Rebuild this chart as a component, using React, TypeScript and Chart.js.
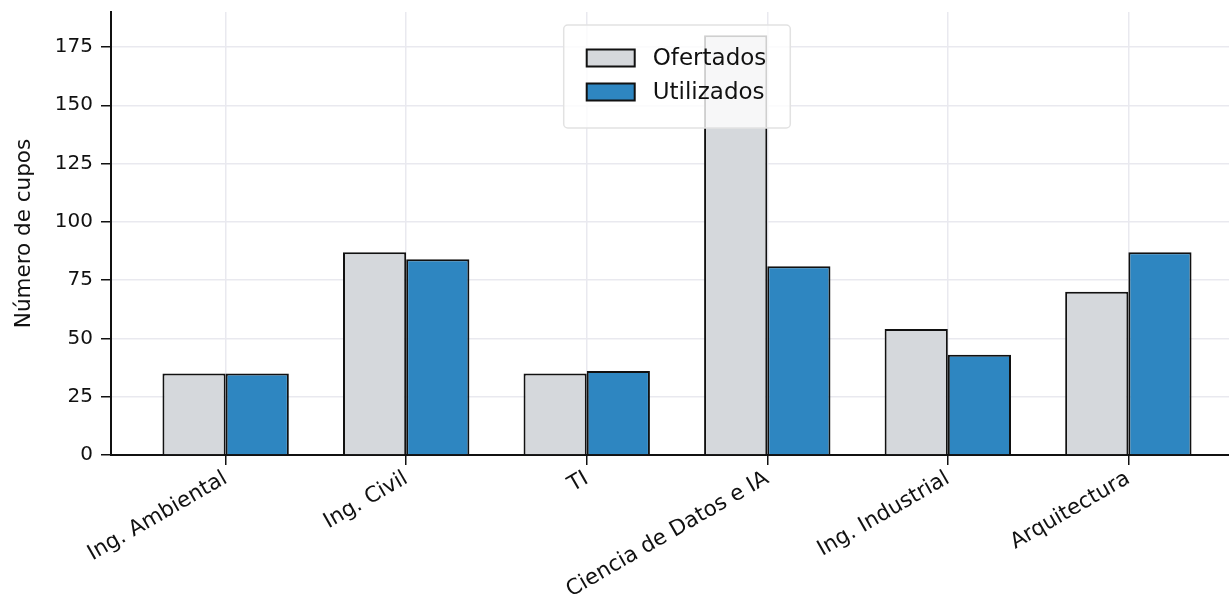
import React, { useEffect, useRef } from "react";
import { Chart, registerables } from "chart.js";

Chart.register(...registerables);

const categories = ["Ing. Ambiental", "Ing. Civil", "TI", "Ciencia de Datos e IA", "Ing. Industrial", "Arquitectura"];
const ofertados = [35, 87, 35, 180, 54, 70];
const utilizados = [35, 84, 36, 81, 43, 87];
const yTicks = [0, 25, 50, 75, 100, 125, 150, 175];
const seriesNames = ["Ofertados", "Utilizados"];
const seriesColors = ["#d5d8dc", "#2e86c1"];

const FONT = "'DejaVu Sans', sans-serif";

const legendPlugin = {
  id: "boxLegend",
  afterDatasetsDraw(chart: any) {
    const { ctx, chartArea } = chart;
    const fontSize = 23;
    ctx.save();
    ctx.font = `${fontSize}px ${FONT}`;
    const names = chart.data.datasets.map((d: any) => d.label);
    const maxW = Math.max(...names.map((n: string) => ctx.measureText(n).width));
    const boxW = 23 + 48 + 18 + maxW + 24;
    const boxH = 103;
    const cx = (chartArea.left + chartArea.right) / 2;
    const x0 = cx - boxW / 2;
    const y0 = chartArea.top + 13;
    ctx.beginPath();
    ctx.roundRect(x0, y0, boxW, boxH, 4);
    ctx.fillStyle = "rgba(255,255,255,0.8)";
    ctx.fill();
    ctx.strokeStyle = "#e2e2e2";
    ctx.lineWidth = 1.5;
    ctx.stroke();
    chart.data.datasets.forEach((d: any, i: number) => {
      const cy = y0 + 33 + i * 34;
      ctx.fillStyle = d.backgroundColor;
      ctx.fillRect(x0 + 23, cy - 8.5, 48, 17);
      ctx.strokeStyle = "#111";
      ctx.lineWidth = 2;
      ctx.strokeRect(x0 + 23, cy - 8.5, 48, 17);
      ctx.fillStyle = "#111";
      ctx.textBaseline = "middle";
      ctx.textAlign = "left";
      ctx.fillText(d.label, x0 + 23 + 48 + 18, cy + 1);
    });
    ctx.restore();
  },
};

export default function App() {
  const ref = useRef<HTMLCanvasElement>(null);
  useEffect(() => {
    if (!ref.current) return;
    const chart = new Chart(ref.current, {
      type: "bar",
      data: {
        datasets: [
          {
            label: seriesNames[0],
            data: ofertados.map((v, i) => ({ x: i, y: v })),
            backgroundColor: seriesColors[0],
            borderColor: "#111",
            borderWidth: 2,
            categoryPercentage: 0.7,
            barPercentage: 1.0,
          },
          {
            label: seriesNames[1],
            data: utilizados.map((v, i) => ({ x: i, y: v })),
            backgroundColor: seriesColors[1],
            borderColor: "#111",
            borderWidth: 2,
            categoryPercentage: 0.7,
            barPercentage: 1.0,
          },
        ],
      },
      options: {
        animation: false,
        responsive: true,
        maintainAspectRatio: false,
        layout: { padding: { top: 12, left: 0, right: 0, bottom: 0 } },
        plugins: { legend: { display: false }, tooltip: { enabled: false } },
        scales: {
          x: {
            type: "linear",
            offset: false,
            min: -0.635,
            max: 5.635,
            afterBuildTicks: (s: any) => {
              s.ticks = categories.map((_, i) => ({ value: i }));
            },
            afterFit: (s: any) => {
              s.height = 147;
              s.paddingLeft = 0;
              s.paddingRight = 0;
            },
            ticks: {
              autoSkip: false,
              minRotation: 30,
              maxRotation: 30,
              padding: 1,
              color: "#111",
              font: { family: FONT, size: 21.5 },
              callback: (v: any) => categories[Math.round(v)] ?? "",
            },
            grid: { offset: false, color: "#e9e9ef", lineWidth: 1.5, tickColor: "#111", tickLength: 10, tickWidth: 1.5 },
            border: { display: true, color: "#111", width: 2 },
          },
          y: {
            min: 0,
            max: 190,
            afterBuildTicks: (s: any) => {
              s.ticks = yTicks.map((v) => ({ value: v }));
            },
            afterFit: (s: any) => {
              s.width = 111;
              s.paddingTop = 0;
              s.paddingBottom = 0;
            },
            ticks: {
              padding: 8,
              color: "#111",
              font: { family: FONT, size: 20 },
            },
            title: {
              display: true,
              text: "Número de cupos",
              color: "#111",
              font: { family: FONT, size: 21.5 },
              padding: { top: 12, bottom: 0 },
            },
            grid: { color: "#e9e9ef", lineWidth: 1.5, tickColor: "#111", tickLength: 10, tickWidth: 1.5 },
            border: { display: true, color: "#111", width: 2 },
          },
        },
      },
      plugins: [legendPlugin],
    } as any);
    return () => chart.destroy();
  }, []);
  return (
    <div style={{ position: "fixed", left: 0, top: 0, width: 1229, height: 602, overflow: "hidden", background: "#fff" }}>
      <div style={{ position: "absolute", left: 0, top: 0, width: 1243, height: 602 }}>
        <canvas ref={ref} />
      </div>
    </div>
  );
}
